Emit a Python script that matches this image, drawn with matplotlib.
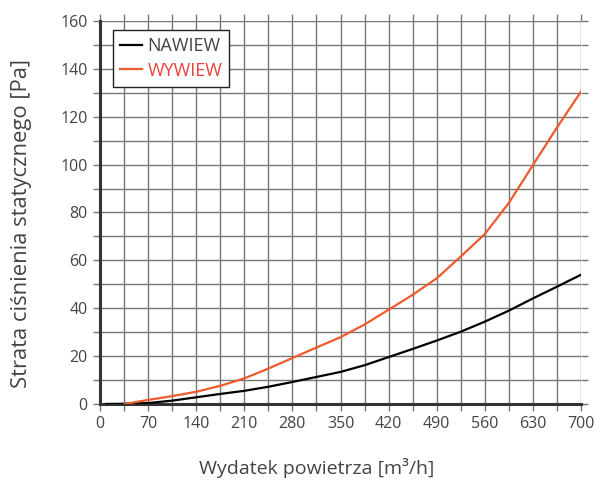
import matplotlib
matplotlib.use("Agg")
import matplotlib.pyplot as plt
from matplotlib.ticker import MultipleLocator

plt.rcParams['font.family'] = ['Open Sans', 'DejaVu Sans']

# Airflow [m3/h] and static pressure loss [Pa]
supply_x = [9, 35, 70, 105, 140, 175, 210, 245, 280, 315, 350, 385, 420, 455, 490, 525, 560, 595, 630, 665, 700]
supply_y = [0, 0.1, 0.4, 1.4, 2.8, 4.2, 5.5, 7.2, 9.2, 11.3, 13.4, 16.2, 19.6, 23.0, 26.5, 30.2, 34.4, 39.0, 44.1, 49.0, 54.0]

exhaust_x = [36, 70, 105, 140, 175, 210, 245, 280, 315, 350, 385, 420, 455, 490, 525, 560, 595, 630, 665, 700]
exhaust_y = [0, 1.7, 3.3, 5.1, 7.6, 10.7, 14.8, 19.2, 23.6, 27.9, 33.2, 39.4, 45.6, 52.5, 61.6, 71.0, 84.0, 99.8, 115.5, 130.5]

labels = ["NAWIEW", "WYWIEW"]
colors = ["#000000", "#ee5a2c"]
text_color = "#444444"
grid_color = "#767676"

fig = plt.figure(figsize=(5.97, 4.84), dpi=100)
ax = fig.add_axes([100/597, 1-404/484, 481/597, 383/484])

ax.plot(supply_x, supply_y, color=colors[0], lw=1.6, label=labels[0], zorder=3)
ax.plot(exhaust_x, exhaust_y, color=colors[1], lw=1.6, label=labels[1], zorder=3)

ax.set_xlim(0, 700)
ax.set_ylim(0, 160)
ax.xaxis.set_major_locator(MultipleLocator(70))
ax.xaxis.set_minor_locator(MultipleLocator(35))
ax.yaxis.set_major_locator(MultipleLocator(20))
ax.yaxis.set_minor_locator(MultipleLocator(10))

ax.grid(True, which='both', color=grid_color, lw=1.0, zorder=1)
ax.set_axisbelow(True)

for side in ['top', 'right']:
    ax.spines[side].set_visible(False)
for side in ['left', 'bottom']:
    ax.spines[side].set_color('#333333')
    ax.spines[side].set_linewidth(2.2)

ax.tick_params(axis='both', which='both', direction='out', length=5, width=1.0,
               color=grid_color, labelsize=11.5, labelcolor=text_color, pad=4)
ax.xaxis.set_tick_params(which='both', top=True, labeltop=False)
ax.yaxis.set_tick_params(which='both', right=True, labelright=False)

ax.set_xlabel("Wydatek powietrza [m³/h]", fontsize=14, color=text_color)
ax.xaxis.set_label_coords((317 - 100) / 481, -(468 - 404) / 383)
ax.xaxis.label.set_va('center')
ax.set_ylabel("Strata ciśnienia statycznego [Pa]", fontsize=15.8, color=text_color)
ax.yaxis.set_label_coords(-(100 - 21) / 481, (404 - 223) / 383)
ax.yaxis.label.set_va('center')

leg = ax.legend(loc='upper left', bbox_to_anchor=(13/481, 1-9/383), fontsize=13,
                frameon=True, fancybox=False, edgecolor='#222222', framealpha=1,
                handlelength=1.2, handletextpad=0.3, borderpad=0.4, labelspacing=0.35,
                borderaxespad=0)
leg.get_frame().set_linewidth(1.0)
for txt, c in zip(leg.get_texts(), [text_color, "#e8433c"]):
    txt.set_color(c)

fig.savefig("out.png", dpi=100)
